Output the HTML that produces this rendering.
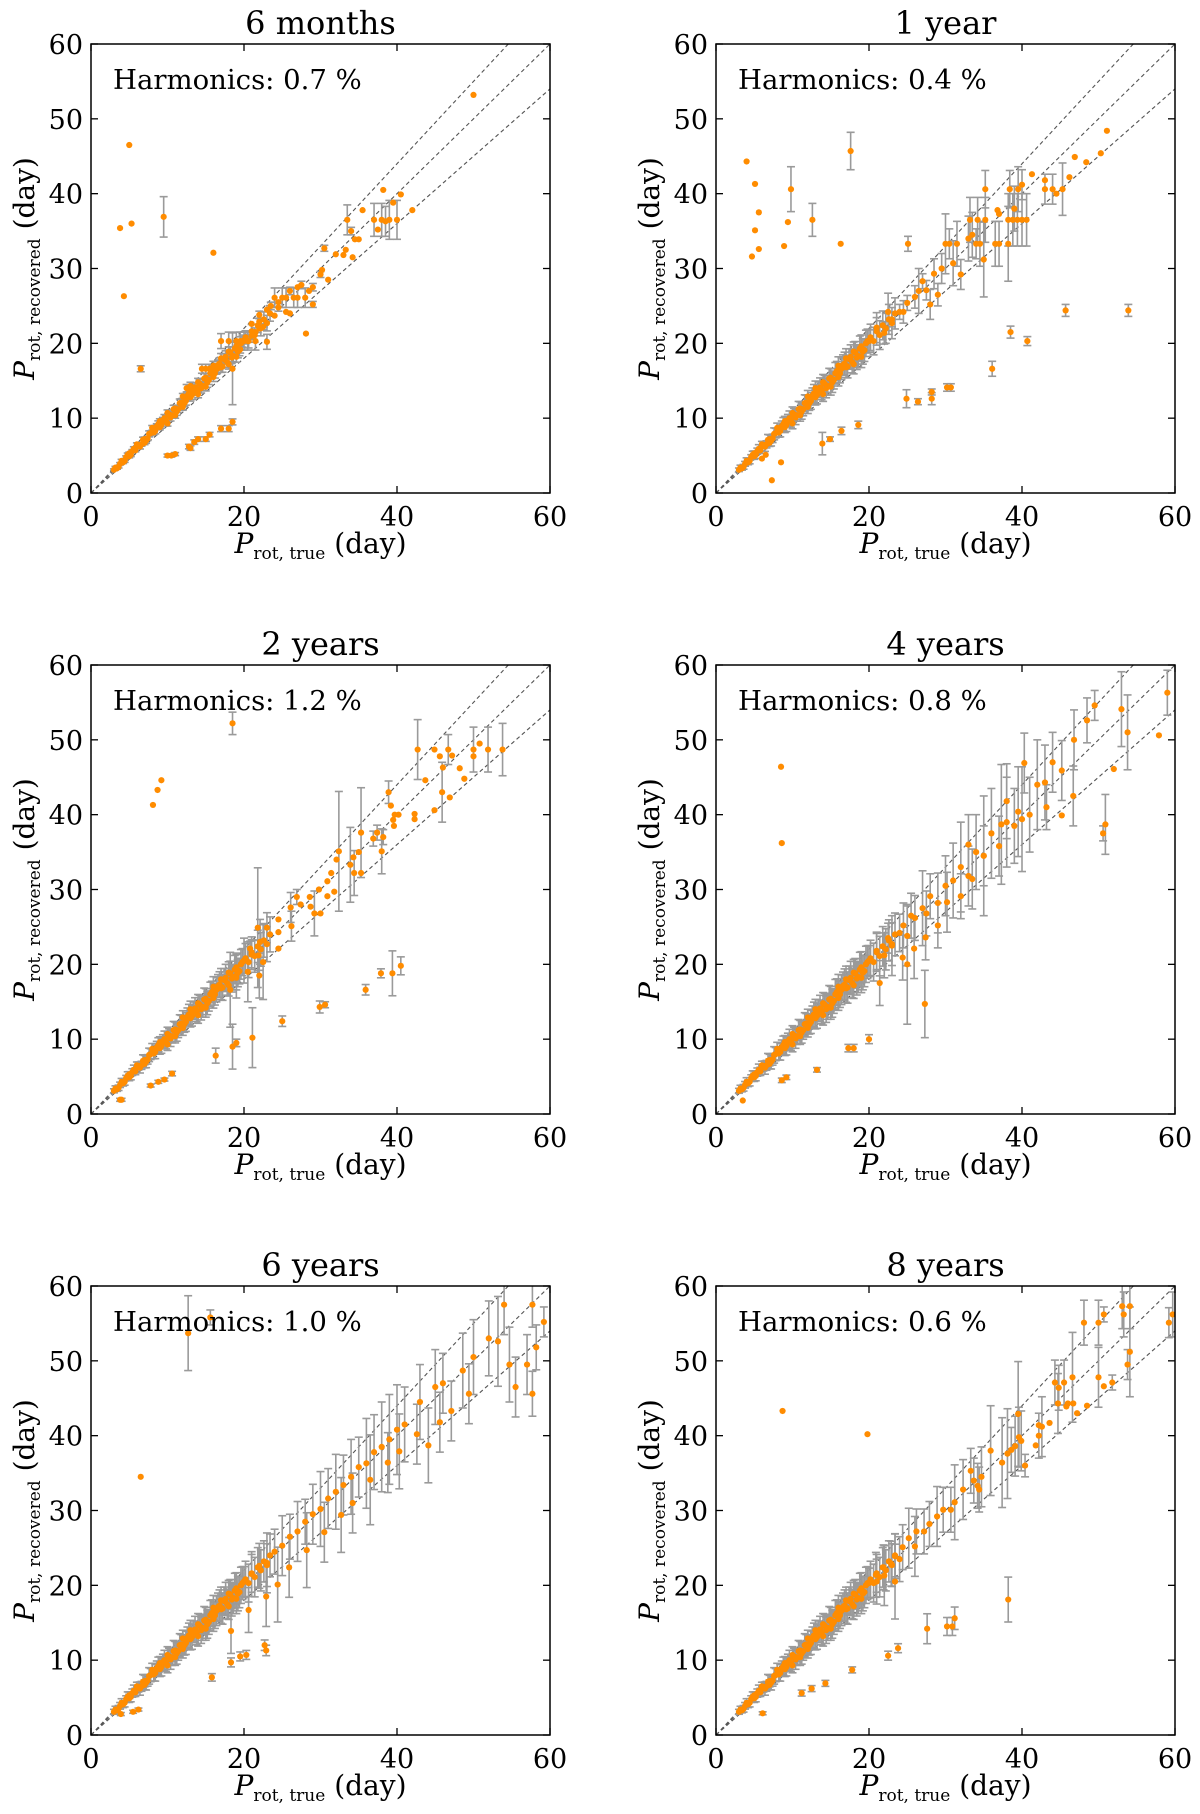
<!DOCTYPE html>
<html><head><meta charset="utf-8"><style>
html,body{margin:0;padding:0;background:#fff;}
svg{display:block;font-family:"DejaVu Serif","Liberation Serif",serif;}
</style></head><body>
<svg id="fig" width="1200" height="1814" viewBox="0 0 1200 1814" xmlns="http://www.w3.org/2000/svg"></svg>
<script>
const titles = ["6 months","1 year","2 years","4 years","6 years","8 years"];
const harmonics = ["0.7","0.4","1.2","0.8","1.0","0.6"];
const xTicks = [0,20,40,60];
const yTicks = [0,10,20,30,40,50,60];
const errScale = [0.4,0.8,0.9,1.1,1.1,1.1];
const core = [[3,3.1,.3],[3.4,3.3,.3],[3.8,3.9,.4],[4.2,4.1,.4],[4.6,4.8,.4],[5,4.9,.5],[5.4,5.6,.5],[5.8,5.7,.5],[6.2,6.4,.6],[6.6,6.5,.6],[7,7.2,.7],[7.4,7.3,.7],[7.8,8,.8],[8.2,8.1,.8],[8.6,8.9,.9],[9,8.8,.9],[9.4,9.7,1],[9.8,9.6,1],[10.2,10.5,1],[10.6,10.4,1],[11,11.3,1.1],[11.4,11.2,1.1],[11.8,12.1,1.2],[12.2,12,1.2],[12.6,13,1.3],[13,12.8,1.3],[13.4,13.8,1.3],[13.8,13.6,1.4],[14.2,14.6,1.4],[14.6,14.3,1.5],[15,15.4,1.5],[15.4,15.1,1.5],[15.8,16.3,1.6],[16.2,16,1.6],[16.6,17.1,1.7],[17,16.8,1.7],[17.4,17.9,1.7],[17.8,17.5,1.8],[18.2,18.8,1.8],[18.6,18.3,1.9],[19,19.6,1.9],[19.4,19.1,1.9],[19.8,20.3,2],[8,8.7,.8],[10,9.3,.9],[12,12.9,1],[14,13.2,1.2],[16,17,1.5],[18,17.2,1.6],[6,6.5,.5],[11,10.4,1],[13,14,1.2],[15,14.2,1.4],[17,18,1.6],[19,18.2,1.8]];
const core2 = [[3.2,3.4,.4],[3.6,3.5,.4],[4,4.3,.5],[4.4,4.3,.5],[4.8,5.1,.6],[5.2,5.1,.6],[5.6,5.9,.7],[6.4,6.2,.8],[6.8,7.1,.9],[7.2,7,.9],[7.6,7.9,1],[8.4,8.3,1],[8.8,9.2,1.1],[9.2,9.1,1.1],[9.6,10,1.2],[10.4,10.1,1.2],[10.8,11.2,1.3],[11.2,10.9,1.3],[11.6,12,1.4],[12.4,12.3,1.4],[12.8,13.3,1.5],[13.2,13.1,1.5],[13.6,14.1,1.6],[14.4,14,1.6],[14.8,15.3,1.7],[15.2,14.8,1.7],[15.6,16,1.8],[16.4,16.6,1.8],[16.8,17.3,1.9],[17.2,16.9,1.9],[17.6,18.2,2],[18.4,18.1,2],[18.8,19.3,2.1],[19.2,18.9,2.1],[19.6,20,2.2],[20.2,20.8,2.2],[20.6,20.3,2.3],[21,21.6,2.3],[21.4,21.1,2.4],[21.8,22.4,2.4],[22.2,22,2.5],[22.6,23.2,2.5],[23,22.7,2.6],[23.4,24,2.6],[9,9.6,.8],[10,10.7,1],[12,11.5,1.1],[14,14.8,1.3],[16,15.5,1.5],[18,18.9,1.6],[7,6.7,.6],[5,5.3,.4]];
const pts6mo = [[3.8,35.4,0],[5,46.5,0],[5.3,36,0],[4.3,26.3,0],[6.5,16.6,0.4],[9.5,36.9,2.7],[16,32.1,0],[28.1,21.3,0],[50,53.2,0],[10,5,0.2],[10.5,5,0.2],[11,5.2,0.2],[12.8,6.2,0.3],[13,6,0.3],[13.5,6.8,0.3],[14,7.2,0.3],[15,7.2,0.3],[15.5,7.8,0.3],[17,8.6,0.4],[18,8.6,0.4],[18.5,9.5,0.4],[18.5,16.6,4.8],[17.5,17.8,0.5],[18,20.3,1.2],[19,20.3,1.2],[19.5,19.2,0.5],[20,20.3,1.2],[20.5,20.3,1.2],[21,21,0.5],[21.5,20.3,1.2],[22,23.8,0.5],[22.5,22.2,0.4],[23,20.2,1],[23.5,25,0.5],[24,26.1,1.3],[24.5,24.8,0.5],[25,26.1,1.3],[25.5,26.1,1.3],[26,27,0.5],[26.5,26.1,1.3],[27,26.1,1.3],[27.5,27.8,0.5],[28,26.1,1.3],[29,27.5,0.5],[29,25.2,0.4],[30,29.2,0.4],[30.5,32.7,0.4],[31,28.5,0],[32,31.9,0],[33,31.8,0],[33.5,36.5,2],[34,35,0.5],[34.5,33.9,0],[35,33.9,0],[35.5,37.8,0],[37,36.5,2.2],[37.5,35.2,0],[38,36.5,2.2],[38.5,36.3,2],[39,36.5,2.6],[39.5,38.8,0],[40,36.5,2.6],[38.2,40.5,0],[40.5,39.9,0],[42,37.8,0],[24,23.7,0],[21,22.6,0],[22,22.9,0],[23,24.5,0],[15,16.6,0.6],[15.5,16.6,0.6],[17,20.3,1],[12.5,14,0.5],[13,14.3,0.5],[14,13.8,0],[26,24,0],[30.2,29.8,0],[33.3,32.5,0],[34.2,31.5,0],[16.5,16.6,0.6],[14.5,16.6,0.6],[19.5,20.3,1.2],[21.5,21.5,0],[22,22,0],[24.5,25.5,0],[25.5,24.2,0],[27,27.5,0],[28.5,27,0]];
const pts1yr = [[4,44.3,0],[5.1,41.3,0],[5.6,37.5,0],[5.1,35.1,0],[5.6,32.6,0],[4.7,31.6,0],[8.9,33,0],[9.4,36.2,0],[9.8,40.6,3],[12.6,36.5,2.2],[16.3,33.3,0],[17.6,45.7,2.5],[25.1,33.3,1],[7.3,1.7,0],[8.5,4.1,0],[6.5,5.1,0],[6,4.6,0],[13.9,6.6,1.5],[14.9,7.2,0.3],[16.4,8.3,0.5],[18.6,9.1,0.5],[24.9,12.6,1.2],[26.4,12.2,0.4],[28.2,12.6,0.8],[28.2,13.5,0.4],[30.2,14.1,0.5],[30.7,14.1,0.5],[36.1,16.6,1],[38.5,21.5,0.8],[40.7,20.3,0.6],[45.7,24.4,0.8],[53.9,24.4,0.8],[41.3,42.6,0],[43,41.8,0],[46.2,42.2,0],[46.9,44.9,0],[48.4,44.2,0],[50.3,45.4,0],[51.1,48.4,0],[35.2,40.6,2.5],[33.2,36.5,3],[34.2,36.5,3],[35.2,36.5,3],[36.8,37.8,0],[37,37.3,0],[38.2,36.5,3.5],[38.8,36.5,3.5],[39.4,36.5,3.5],[40,36.5,3.5],[40.6,36.5,3.5],[43,40.6,2],[44,40.6,2],[45.3,40.6,3.5],[44.5,40,0],[20,20.3,1.5],[21,22.1,2],[22,21.4,1.5],[22.5,24.2,2.5],[23,23.2,1],[24,24.2,1],[24.5,24.2,1.5],[25,25.4,1],[26,26.2,1.5],[26.5,27,3],[27,28.3,1],[27.5,27.1,1.3],[28,25.2,2],[28.5,29.3,2],[29,26.5,1.5],[29.5,30,2],[30,33.3,4],[30.5,33.3,2],[31,30.7,3],[31.5,33.3,3],[32,29.2,2],[33,34,3],[33.5,34.5,3],[34,33.3,2],[34.5,33.3,3],[35,31.2,5],[36.5,33.3,3],[37,33.3,3],[38.4,40.6,2.5],[39,38,3],[39.5,40.6,3],[40,41.2,2],[38.2,33.3,5]];
const pts2yr = [[18.5,52.2,1.5],[8.1,41.3,0],[8.7,43.3,0],[9.2,44.6,0],[3.8,1.9,0.2],[4,1.9,0.2],[7.8,3.8,0.2],[8.8,4.3,0.2],[9.6,4.6,0.2],[10.6,5.4,0.3],[16.3,7.8,1],[18.5,9,3],[19,9.5,0.5],[21.1,10.2,4],[25,12.4,0.7],[29.9,14.3,0.8],[30.6,14.6,0.4],[35.9,16.6,0.7],[37.9,18.8,0.6],[39.4,18.8,3],[40.5,19.8,1.2],[42.7,48.7,4],[44.9,48.7,0],[45.6,47.8,0],[46.7,48.7,2],[47.2,47.9,0],[50,48.7,3],[50,47.8,0],[50.8,49.5,0],[51.9,48.7,3],[53.8,48.7,3.5],[43.7,44.6,0],[46,46.3,0],[45.9,43,4],[48.2,46.2,0],[48.8,44.8,0],[46.9,42.3,0],[44.9,40.6,0],[38.9,43,1.5],[39.2,41.2,0],[39.7,40,0],[40.2,40,0],[42.3,40.1,0],[42.3,39.4,0],[39.5,39.3,0],[39.6,38.5,0],[36.9,36.8,1],[37.4,37.6,1],[38.2,37,1],[38,35.1,3],[35.3,37.6,6],[33.9,33.3,5],[32.4,35.1,8],[32.1,34,0],[34.3,34.3,0],[35,35,0],[34.4,32.2,3],[35.3,32.2,0],[31.4,32.2,0],[30.9,31.1,0],[29.8,30,0],[30.9,29.1,0],[31.8,29.7,0],[26.9,29,1],[28.6,29,0],[26.1,27.6,2],[27.4,28,0],[28.7,27.7,0],[29.2,26.8,3],[30,26.8,0],[24.5,26,0],[26.2,25.1,2],[23,24.9,2],[24.5,24.3,0],[22.1,23,3],[20.8,22.1,1],[21.9,21.2,2],[22.5,20.3,5],[24.5,22.1,0],[21.8,24.9,8],[20,20.5,3],[21,21.3,2],[20.5,19,4],[19,18.5,3],[18.2,16.6,5],[22,18.5,3]];
const pts4yr = [[8.5,46.4,0],[8.6,36.2,0],[8.6,4.5,0.3],[9.2,4.9,0.3],[13.2,5.9,0.3],[17.3,8.8,0.5],[18,8.8,0.5],[20,10,0.6],[27.3,14.7,4.5],[3.5,1.8,0],[59,56.3,3],[57.9,50.6,0],[50.9,38.7,4],[50.6,37.5,1],[52,46.1,0],[53,54.1,5],[53.8,51,5],[49.5,54.6,2],[48.5,52.6,3],[46.8,50,4],[46.7,42.5,4],[45.2,45.9,4],[45.2,39.9,0],[43,44.3,5],[43.2,41,3],[40.3,46.9,4],[39.5,40.4,6],[38,41.8,5],[37.3,38.7,8],[35,34.5,4],[33.5,31.4,4],[32,29.1,3],[30.2,28.3,4],[29,25.2,3],[27.4,23.6,3],[25.9,22.1,4],[24.4,20.9,3],[21.4,17.5,3],[20,20.5,2],[21,21.8,2.5],[22,21.2,3],[22.5,23.5,2],[23,22.5,4],[24,24.2,2.5],[24.5,25.2,3],[25,23.8,4],[25.5,26.5,3],[26,26.2,3],[27,27.5,5],[27.5,26.8,3],[28,29.1,3],[29,28.2,4],[30,30.5,4],[31,31.2,5],[32,33,6],[33,31.8,4],[34,35,5],[35,34.5,8],[36,37.5,6],[37,35.8,4],[38,39,6],[39,38.5,5],[40,39.4,7],[41,40,5],[42,44,6],[25,20,8],[33,36,4],[44,47,4]];
const pts6yr = [[12.7,53.7,5],[15.6,55.8,1],[6.5,34.5,0],[3.9,2.8,0.2],[5.5,3.1,0.2],[6.2,3.4,0.2],[15.8,7.7,0.5],[18.3,9.7,0.6],[19.5,10.5,0.6],[20.3,10.7,0.6],[22.7,12,0.7],[22.9,11.3,0.7],[57.7,57.5,3],[59.2,55.2,2],[58.2,51.8,3],[57,49.5,4],[57.7,45.6,3],[53.2,52.6,6],[54.7,49.5,5],[55.5,46.5,4],[48.6,48.7,5],[49.4,45.6,4],[47.1,43.3,4],[45.6,41.8,4],[44.1,38.7,5],[42.6,40.2,4],[40.3,37.9,5],[38.8,36.4,4],[36.5,34.1,6],[34.2,31,4],[32.7,29.4,5],[30.5,27.1,4],[28.2,24.7,5],[25.9,22.4,4],[24.4,20.1,5],[22.9,18.5,4],[20.6,16.7,3],[18.3,13.9,3],[20,20.5,2],[21,21.5,3],[22,22.6,3],[23,23,4],[24,24.5,3],[25,25.3,4],[26,26.5,3],[27,27.2,4],[28,28.5,3],[29,29.5,4],[30,30.2,5],[31,31.6,4],[32,32.5,5],[33,33.4,4],[34,34.5,5],[35,35.8,4],[36,36.3,6],[37,37.8,5],[38,38.5,6],[39,39.5,6],[40,40.8,6],[41,41.5,5],[43,44.5,5],[45,46.5,5],[46,47,4],[50,50.5,5],[52,53,5],[54,57.5,4]];
const pts8yr = [[8.7,43.3,0],[19.8,40.2,0],[6.1,2.9,0.2],[11.2,5.6,0.4],[12.5,6.2,0.4],[14.3,6.9,0.4],[17.8,8.7,0.4],[22.5,10.6,0.6],[23.8,11.6,0.6],[27.6,14.2,2],[30.2,14.5,1.2],[30.9,14.5,1.2],[31.2,15.6,1.5],[38.2,18.1,3],[48.1,55.1,3],[50,55.1,3],[50.7,56.2,1],[53.1,57.3,3],[53.3,56.2,3],[54.1,57.3,3],[54.1,51.2,6],[53.8,49.5,2],[59.2,55.1,2],[59.7,56.2,3],[51.8,47.1,1],[50.7,46.6,0],[50,47.8,4],[48.5,44,0],[47.2,43,0],[46.7,44.3,0],[46.6,47.8,6],[46,44.3,0],[45.8,43.9,0],[45.5,47.1,3],[44.8,46.4,3],[44.3,47.1,3],[44.7,44.3,4],[43.6,41.7,0],[42.6,41.2,4],[42.2,41.4,0],[42.2,40,3],[41.8,38.7,0],[40.4,36,1.5],[39.9,39.3,4],[39.5,42.9,7],[39.6,39.8,4],[39.1,38.6,4],[38.6,38.1,3],[38.1,37.6,6],[37.4,36.4,6],[35.9,38,6],[34.7,34.5,4],[34.2,33.3,3],[34.4,32.8,3],[33.7,34,3],[33.3,35.3,3],[32.3,32.8,4],[31.2,31.1,5],[30.7,30.1,3],[29.7,30.1,3],[28.9,29.2,4],[27.9,28.2,3],[27.2,27.2,3],[26.2,27.2,3],[25.2,26.3,4],[24.4,25.1,3],[23.4,23.9,3],[22.9,22.9,3],[21.9,22.4,3],[20.9,21.4,3],[23.4,20.5,5],[20,20.3,2],[21,20.5,3],[22,21.3,4],[24,23.5,3],[26,25.2,4]];
const allPts = [pts6mo, pts1yr, pts2yr, pts4yr, pts6yr, pts8yr];

const NS = "http://www.w3.org/2000/svg";
const svg = document.getElementById('fig');
const colX = [91, 716], rowY = [44, 665, 1286];
const W = 459, H = 449;
function mk(tag, attrs, parent){ const e=document.createElementNS(NS,tag); for(const k in attrs) e.setAttribute(k,attrs[k]); parent.appendChild(e); return e; }

for (let p=0; p<6; p++){
  const ox = colX[p%2], oy = rowY[Math.floor(p/2)];
  const sx = v => ox + v/60*W;
  const sy = v => oy + H - v/60*H;
  const g = mk('g',{},svg);
  
  
  const cid = 'clip'+p;
  const cp = mk('clipPath',{id:cid},g);
  mk('rect',{x:ox,y:oy,width:W,height:H},cp);
  const t = mk('text',{x:ox+W/2,y:oy-10,'text-anchor':'middle','font-size':32,fill:'#000'},g);
  t.textContent = titles[p];
  
  
  const plot = mk('g',{'clip-path':'url(#'+cid+')'},g);
  
  
  [1.1,1.0,0.9].forEach(s=>{
    const l = mk('line',{x1:sx(0),y1:sy(0),x2:sx(60),y2:sy(60*s),stroke:'#555','stroke-width':1.1,'stroke-dasharray':'4,3'},plot);
    
    
  });
  const base = core.concat(core2).map(d=>[d[0],d[1],d[2]*errScale[p]]);
  const pts = base.concat(allPts[p]);
  pts.forEach(d=>{
    if (d[2]>0){
      const e = mk('g',{stroke:'#9a9a9a','stroke-width':1.6},plot);
      
      
      mk('line',{x1:sx(d[0]),x2:sx(d[0]),y1:sy(d[1]-d[2]),y2:sy(d[1]+d[2])},e);
      mk('line',{x1:sx(d[0])-4,x2:sx(d[0])+4,y1:sy(d[1]-d[2]),y2:sy(d[1]-d[2])},e);
      mk('line',{x1:sx(d[0])-4,x2:sx(d[0])+4,y1:sy(d[1]+d[2]),y2:sy(d[1]+d[2])},e);
    }
  });
  pts.forEach(d=>{
    const c = mk('circle',{cx:sx(d[0]),cy:sy(d[1]),r:3.1,fill:'#ff8c00'},plot);
    
    
  });
  const fr = mk('rect',{x:ox,y:oy,width:W,height:H,fill:'none',stroke:'#000','stroke-width':1.5},g);
  
  
  xTicks.forEach(v=>{
    mk('line',{x1:sx(v),x2:sx(v),y1:oy+H,y2:oy+H-7,stroke:'#000','stroke-width':1.3},g);
    mk('line',{x1:sx(v),x2:sx(v),y1:oy,y2:oy+7,stroke:'#000','stroke-width':1.3},g);
    const tl = mk('text',{x:sx(v),y:oy+H+33,'text-anchor':'middle','font-size':27},g);
    tl.textContent = v;
    
    
  });
  yTicks.forEach(v=>{
    mk('line',{x1:ox,x2:ox+7,y1:sy(v),y2:sy(v),stroke:'#000','stroke-width':1.3},g);
    mk('line',{x1:ox+W,x2:ox+W-7,y1:sy(v),y2:sy(v),stroke:'#000','stroke-width':1.3},g);
    const tl = mk('text',{x:ox-8,y:sy(v)+10,'text-anchor':'end','font-size':27},g);
    tl.textContent = v;
    
    
  });
  const hm = mk('text',{x:ox+22,y:oy+45,'font-size':27.5},g);
  hm.textContent = 'Harmonics: ' + harmonics[p] + ' %';
  
  
  const xl = mk('text',{x:ox+W/2,y:oy+H+60,'text-anchor':'middle','font-size':28},g);
  xl.innerHTML = '<tspan font-style="italic">P</tspan><tspan font-size="17" dy="6">rot, true</tspan><tspan dy="-6"> (day)</tspan>';
  
  
  const yl = mk('text',{x:0,y:0,'text-anchor':'middle','font-size':28,transform:'translate('+(ox-57)+','+(oy+H/2)+') rotate(-90)'},g);
  yl.innerHTML = '<tspan font-style="italic">P</tspan><tspan font-size="17" dy="6">rot, recovered</tspan><tspan dy="-6"> (day)</tspan>';
  
  
}
</script>
</body></html>
